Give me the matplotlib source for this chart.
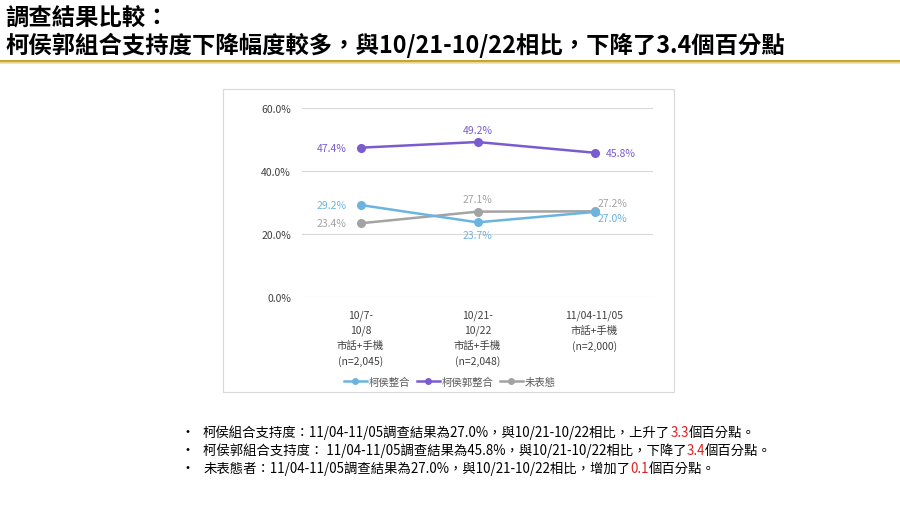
import matplotlib.pyplot as plt
import matplotlib.lines as mlines

plt.rcParams['font.family'] = ['Noto Sans CJK TC', 'DejaVu Sans']

periods = ['10/7-\n10/8\n市話+手機\n(n=2,045)',
           '10/21-\n10/22\n市話+手機\n(n=2,048)',
           '11/04-11/05\n市話+手機\n(n=2,000)']
ko_hou = [29.2, 23.7, 27.0]
ko_hou_guo = [47.4, 49.2, 45.8]
undecided = [23.4, 27.1, 27.2]
series_names = ['柯侯整合', '柯侯郭整合', '未表態']

title_lines = ['調查結果比較：', '柯侯郭組合支持度下降幅度較多，與10/21-10/22相比，下降了3.4個百分點']
notes = [
    ('柯侯組合支持度：11/04-11/05調查結果為27.0%，與10/21-10/22相比，上升了', '3.3', '個百分點。'),
    ('柯侯郭組合支持度： 11/04-11/05調查結果為45.8%，與10/21-10/22相比，下降了', '3.4', '個百分點。'),
    ('未表態者：11/04-11/05調查結果為27.0%，與10/21-10/22相比，增加了', '0.1', '個百分點。'),
]

c_blue = '#6cb4e0'
c_purple = '#7a5cd0'
c_gray = '#a3a3a3'

fig = plt.figure(figsize=(9, 5.06), dpi=100)
W, H = 900, 506

# title
fig.text(5 / W, 1 - 18 / H, title_lines[0], fontsize=16.8, fontweight='bold', va='center', ha='left')
fig.text(5 / W, 1 - 45 / H, title_lines[1], fontsize=16.8, fontweight='bold', va='center', ha='left')
fig.add_artist(mlines.Line2D([0, 1], [1 - 62 / H, 1 - 62 / H], color='#c8a52e', lw=2.2))
fig.add_artist(mlines.Line2D([0, 1], [1 - 64 / H, 1 - 64 / H], color='#eedfa6', lw=1.2))

# chart frame
frame = plt.Rectangle((223 / W, 1 - 393 / H), (674 - 223) / W, (393 - 90) / H,
                      transform=fig.transFigure, fill=False, edgecolor='#d9d9d9', lw=0.8)
fig.add_artist(frame)

ax = fig.add_axes([302 / W, 1 - 298 / H, (653 - 302) / W, (298 - 109) / H])
x = list(range(len(periods)))
ax.plot(x, ko_hou, color=c_blue, marker='o', ms=5.5, lw=1.8, zorder=3)
ax.plot(x, ko_hou_guo, color=c_purple, marker='o', ms=5.5, lw=1.8, zorder=3)
ax.plot(x, undecided, color=c_gray, marker='o', ms=5.5, lw=1.8, zorder=2)

ax.set_xlim(-0.5, 2.5)
ax.set_ylim(0, 60)
ax.set_yticks([0, 20, 40, 60])
ax.set_yticklabels(['%.1f%%' % v for v in [0, 20, 40, 60]])
ax.set_xticks(x)
ax.set_xticklabels(periods, linespacing=1.6)
ax.tick_params(axis='both', length=0, labelsize=7.5, colors='#404040')
ax.tick_params(axis='y', pad=8)
ax.tick_params(axis='x', pad=9)
ax.grid(axis='y', color='#d9d9d9', lw=0.8)
ax.set_axisbelow(True)
for s in ax.spines.values():
    s.set_visible(False)

# data labels
def lab(xi, yi, text, color, dx, dy, ha):
    ax.annotate(text, (xi, yi), xytext=(dx, dy), textcoords='offset points',
                ha=ha, va='center', fontsize=7.5, color=color)

lab(0, ko_hou_guo[0], '%.1f%%' % ko_hou_guo[0], c_purple, -10, 0, 'right')
lab(1, ko_hou_guo[1], '%.1f%%' % ko_hou_guo[1], c_purple, 0, 9, 'center')
lab(2, ko_hou_guo[2], '%.1f%%' % ko_hou_guo[2], c_purple, 8, 0, 'left')
lab(0, ko_hou[0], '%.1f%%' % ko_hou[0], c_blue, -10, 0, 'right')
lab(1, ko_hou[1], '%.1f%%' % ko_hou[1], c_blue, 0, -9, 'center')
lab(2, ko_hou[2], '%.1f%%' % ko_hou[2], c_blue, 2, -4, 'left')
lab(0, undecided[0], '%.1f%%' % undecided[0], c_gray, -10, 0, 'right')
lab(1, undecided[1], '%.1f%%' % undecided[1], c_gray, 0, 9, 'center')
lab(2, undecided[2], '%.1f%%' % undecided[2], c_gray, 2, 6, 'left')

handles = [mlines.Line2D([], [], color=c, marker='o', ms=4, lw=1.8) for c in (c_blue, c_purple, c_gray)]
fig.legend(handles, series_names, loc='center', bbox_to_anchor=(450 / W, 1 - 383 / H), ncol=3,
           frameon=False, fontsize=7.5, labelcolor='#595959', handlelength=2.2, handletextpad=0.2,
           columnspacing=0.6)

# bullet notes
renderer = fig.canvas.get_renderer()
for i, (pre, num, post) in enumerate(notes):
    yy = 1 - (433 + 18 * i) / H
    fig.text(181 / W, yy, '•', fontsize=10, va='center', ha='left')
    t = fig.text(203 / W, yy, pre, fontsize=9.6, va='center', ha='left')
    bb = t.get_window_extent(renderer)
    t2 = fig.text(bb.x1 / W, yy, num, fontsize=9.6, va='center', ha='left', color='#e02020')
    bb2 = t2.get_window_extent(renderer)
    fig.text(bb2.x1 / W, yy, post, fontsize=9.6, va='center', ha='left')

fig.savefig('out.png', dpi=100)
